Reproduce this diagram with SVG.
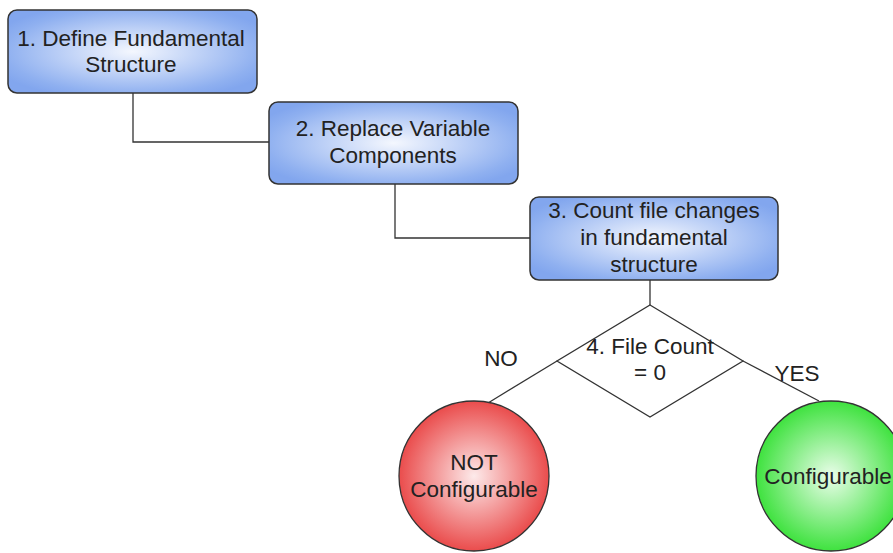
<svg xmlns="http://www.w3.org/2000/svg" width="893" height="553" viewBox="0 0 893 553">
  <defs>
    <radialGradient id="gBlue" cx="50%" cy="50%" r="60%">
      <stop offset="0" stop-color="#f4f7fe"/>
      <stop offset="0.85" stop-color="#8fb0f0"/>
      <stop offset="1" stop-color="#82a6ee"/>
    </radialGradient>
    <radialGradient id="gRed" cx="50%" cy="50%" r="50%">
      <stop offset="0" stop-color="#fdeaea"/>
      <stop offset="1" stop-color="#ea4c4c"/>
    </radialGradient>
    <radialGradient id="gGreen" cx="50%" cy="50%" r="50%">
      <stop offset="0" stop-color="#eafdea"/>
      <stop offset="1" stop-color="#3fe23f"/>
    </radialGradient>
  </defs>
  <style>
    .box { fill: url(#gBlue); stroke: #333; stroke-width: 1.5; }
    .dec { fill: #fff; stroke: #333; stroke-width: 1.3; }
    .red { fill: url(#gRed); stroke: #333; stroke-width: 1.3; }
    .green { fill: url(#gGreen); stroke: #333; stroke-width: 1.3; }
    .wire { fill: none; stroke: #333; stroke-width: 1.3; }
    text { font-family: "Liberation Sans", Arial, sans-serif; font-size: 22.5px; fill: #222; text-anchor: middle; }
  </style>

  <!-- connectors -->
  <g id="connectors">
    <polyline class="wire" points="133,93 133,142 269,142"/>
    <polyline class="wire" points="395,184 395,238 530,238"/>
    <line class="wire" x1="650" y1="280" x2="650" y2="305"/>
    <line class="wire" x1="557" y1="361" x2="488" y2="403"/>
    <line class="wire" x1="743" y1="361" x2="819" y2="401"/>
  </g>

  <g id="n1">
    <rect class="box" x="8" y="10" width="249" height="83" rx="9"/>
    <text x="131" y="46">1. Define Fundamental</text>
    <text x="131" y="72">Structure</text>
  </g>

  <g id="n2">
    <rect class="box" x="269" y="102" width="249" height="82" rx="9"/>
    <text x="393" y="136">2. Replace Variable</text>
    <text x="393" y="163">Components</text>
  </g>

  <g id="n3">
    <rect class="box" x="530" y="197" width="248" height="83" rx="9"/>
    <text x="654" y="218">3. Count file changes</text>
    <text x="654" y="245">in fundamental</text>
    <text x="654" y="272">structure</text>
  </g>

  <g id="n4">
    <polygon class="dec" points="650,305 743,361 650,417 557,361"/>
    <text x="650" y="354">4. File Count</text>
    <text x="650" y="380">= 0</text>
  </g>

  <text x="501" y="366">NO</text>
  <text x="797" y="381">YES</text>

  <g id="n5">
    <circle class="red" cx="474" cy="476" r="75"/>
    <text x="474" y="470">NOT</text>
    <text x="474" y="497">Configurable</text>
  </g>

  <g id="n6">
    <circle class="green" cx="831" cy="476" r="75"/>
    <text x="828" y="484">Configurable</text>
  </g>
</svg>
